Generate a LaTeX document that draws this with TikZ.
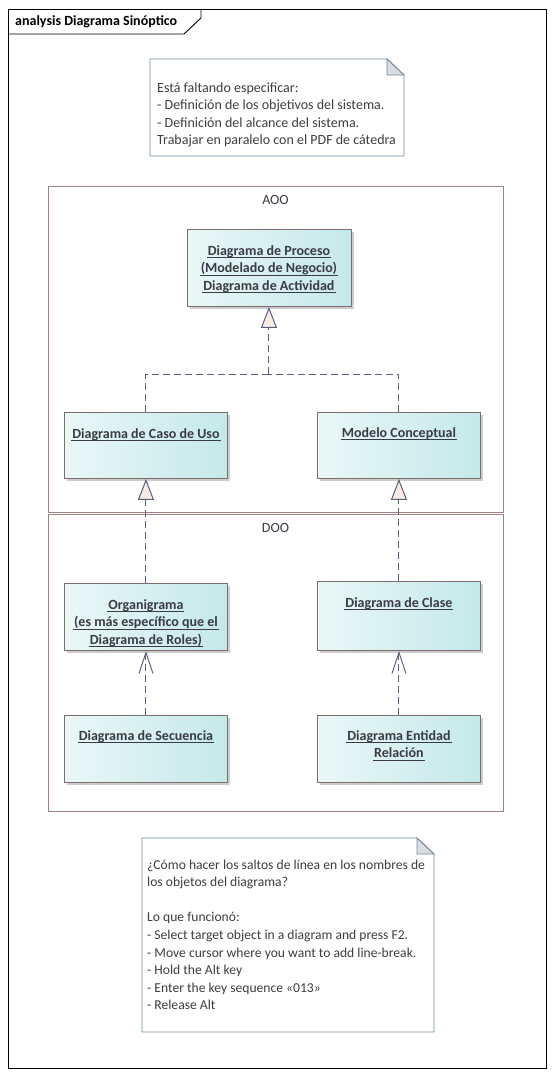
\documentclass[tikz,border=0pt]{standalone}
\usepackage{fontspec}
\setmainfont{Carlito}
\usetikzlibrary{arrows.meta,shadows,calc}
\definecolor{boxborder}{RGB}{125,108,108}
\definecolor{boxL}{RGB}{234,247,247}
\definecolor{boxR}{RGB}{196,233,234}
\definecolor{shadowc}{RGB}{205,205,205}
\definecolor{pkgc}{RGB}{160,128,130}
\definecolor{depc}{RGB}{90,96,122}
\definecolor{trifill}{RGB}{250,234,230}
\definecolor{notec}{RGB}{110,140,160}
\definecolor{foldc}{RGB}{220,221,226}
\definecolor{notetext}{RGB}{62,62,62}
\definecolor{titletext}{RGB}{58,58,72}
\newcommand\myul[1]{\setbox0\hbox{#1}\rlap{\kern-1pt\rule[-3.3pt]{\dimexpr\wd0+2pt\relax}{0.9pt}}\box0}
\tikzset{
  umlbox/.style={draw=boxborder, line width=0.9pt, left color=boxL, right color=boxR,
    anchor=north west, inner sep=0pt,
    drop shadow={shadow xshift=3pt, shadow yshift=-3pt, fill=shadowc, opacity=1}},
  boxtitle/.style={anchor=north, inner sep=0pt, align=center, text=titletext,
    font=\fontsize{14}{17.5}\selectfont\bfseries},
  pkg/.style={draw=pkgc, line width=1pt, anchor=north west, inner sep=0pt},
  pkglabel/.style={anchor=base, inner sep=0pt, text=titletext, font=\fontsize{14}{16}\selectfont},
  notetxt/.style={anchor=north west, inner sep=0pt, align=left, text=notetext,
    font=\fontsize{14}{17.4}\selectfont},
  notebox/.style={draw=notec, line width=0.9pt, fill=white},
  dep/.style={draw=depc, line width=1pt, dash pattern=on 7pt off 4pt},
  real/.style={-{Triangle[length=21pt,width=16pt,fill=trifill]}},
  use/.style={-{Straight Barb[length=21pt,width=14pt]}}
}
\begin{document}
\begin{tikzpicture}[x=1pt,y=-1pt]
\useasboundingbox (0,0) rectangle (554,1077);
\fill[white] (0,0) rectangle (554,1077);
% frame
\draw[line width=0.9pt] (8,9) rectangle (546,1068);
\draw[line width=0.9pt] (8,34) -- (184,34) -- (201,18) -- (201,9);
\node[anchor=base west, inner sep=0pt, font=\fontsize{14}{16}\selectfont\bfseries] (hdr) at (15,25.5) {analysis Diagrama Sinóptico};
% top note
\draw[notebox] (150,59) -- (387,59) -- (404,75) -- (404,156) -- (150,156) -- cycle;
\draw[notec, line width=0.9pt, fill=foldc] (387,59) -- (387,75) -- (404,75) -- cycle;
\node[notetxt] (note1) at (157,82.4) {Está faltando especificar:\\- Definición de los objetivos del sistema.\\- Definición del alcance del sistema.\\Trabajar en paralelo con el PDF de cátedra};
% packages
\node[pkg, minimum width=455pt, minimum height=326pt] (aoo) at (48,186) {};
\node[pkglabel] (aool) at (275.5,204) {AOO};
\node[pkg, minimum width=455pt, minimum height=297pt] (doo) at (48,514) {};
\node[pkglabel] (dool) at (275.5,532.5) {DOO};
% boxes
\node[umlbox, minimum width=164pt, minimum height=77pt] (proc) at (186.5,229) {};
\node[boxtitle] (proct) at ($(proc.north)+(0,16)$) {\myul{Diagrama de Proceso}\\\myul{(Modelado de Negocio)}\\\myul{Diagrama de Actividad}};
\node[umlbox, minimum width=163pt, minimum height=66pt] (caso) at (64,412) {};
\node[boxtitle] (casot) at ($(caso.north)+(0,16)$) {\myul{Diagrama de Caso de Uso}};
\node[umlbox, minimum width=163pt, minimum height=66pt] (modelo) at (317,412) {};
\node[boxtitle] (modelot) at ($(modelo.north)+(0,15)$) {\myul{Modelo Conceptual}};
\node[umlbox, minimum width=163pt, minimum height=67pt] (org) at (64,583) {};
\node[boxtitle] (orgt) at ($(org.north)+(0,16)$) {\myul{Organigrama}\\\myul{(es más específico que el}\\\myul{Diagrama de Roles)}};
\node[umlbox, minimum width=163pt, minimum height=69pt] (clase) at (317,581) {};
\node[boxtitle] (claset) at ($(clase.north)+(0,16)$) {\myul{Diagrama de Clase}};
\node[umlbox, minimum width=163pt, minimum height=67pt] (sec) at (64,715) {};
\node[boxtitle] (sect) at ($(sec.north)+(0,15)$) {\myul{Diagrama de Secuencia}};
\node[umlbox, minimum width=163pt, minimum height=67pt] (er) at (317,715) {};
\node[boxtitle] (ert) at ($(er.north)+(0,15)$) {\myul{Diagrama Entidad}\\\myul{Relación}};
% connectors
\coordinate (j) at (proc.south |- 0,374);
\draw[dep] (caso.north) |- (j);
\draw[dep] (modelo.north) |- (j);
\draw[dep, real] (j) -- (proc.south);
\draw[dep, real] (org.north) -- (caso.south);
\draw[dep, real] (clase.north) -- (modelo.south);
\draw[dep, use] (sec.north) -- (org.south);
\draw[dep, use] (er.north) -- (clase.south);
% bottom note
\draw[notebox] (142,838) -- (417,838) -- (434,854) -- (434,1032) -- (142,1032) -- cycle;
\draw[notec, line width=0.9pt, fill=foldc] (417,838) -- (417,854) -- (434,854) -- cycle;
\node[notetxt, font=\fontsize{13.6}{17.6}\selectfont] (note2) at (147,859.4) {¿Cómo hacer los saltos de línea en los nombres de\\los objetos del diagrama?\\\mbox{}\\Lo que funcionó:\\- Select target object in a diagram and press F2.\\- Move cursor where you want to add line-break.\\- Hold the Alt key\\- Enter the key sequence «013»\\- Release Alt};
\end{tikzpicture}
\end{document}
